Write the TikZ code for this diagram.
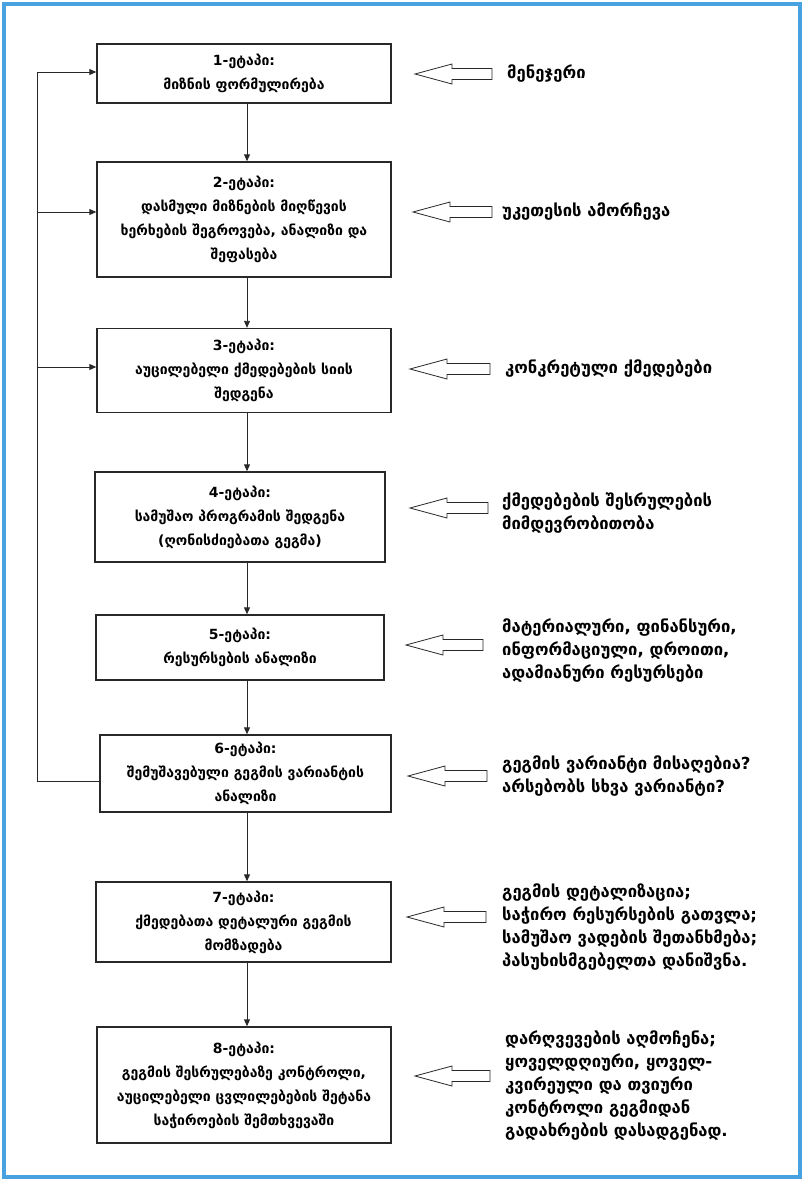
\documentclass[tikz,border=0pt]{standalone}
\usepackage{fontspec}
\setmainfont{DejaVu Sans}
\usetikzlibrary{arrows.meta}
\definecolor{framecol}{RGB}{72,162,224}
\definecolor{ink}{RGB}{40,40,40}
\begin{document}
\begin{tikzpicture}[x=1pt,y=-1pt,
  stage/.style={draw=ink,line width=1.4pt,fill=white,align=center,inner sep=2pt,
    font=\bfseries\fontsize{14}{24}\selectfont,text=black},
  note/.style={anchor=west,align=left,inner sep=0pt,
    font=\bfseries\fontsize{16.6}{23}\selectfont,text=black},
  flow/.style={draw=ink,line width=0.9pt,-{Triangle[length=7pt,width=6pt]}},
  loopline/.style={draw=ink,line width=0.9pt},
  blockarrow/.pic={\draw[ink,line width=0.8pt,line join=miter]
    (0,0) -- (37,-10) -- (37,-5.5) -- (#1,-5.5) -- (#1,5.5) -- (37,5.5) -- (37,10) -- cycle;}]
\useasboundingbox (0,0) rectangle (804,1181);
\fill[white] (0,0) rectangle (804,1181);
\draw[framecol,line width=4pt] (4,4) rectangle (800,1177);

% stages of the planning process
\node[stage,minimum width=294,minimum height=59]  (s1) at (244,73.5)
  {1-ეტაპი:\\მიზნის ფორმულირება};
\node[stage,minimum width=294,minimum height=115] (s2) at (244,219.5)
  {2-ეტაპი:\\დასმული მიზნების მიღწევის\\ხერხების შეგროვება, ანალიზი და\\შეფასება};
\node[stage,minimum width=294,minimum height=84]  (s3) at (244,370.5)
  {3-ეტაპი:\\აუცილებელი ქმედებების სიის\\შედგენა};
\node[stage,minimum width=290,minimum height=90]  (s4) at (240,517)
  {4-ეტაპი:\\სამუშაო პროგრამის შედგენა\\(ღონისძიებათა გეგმა)};
\node[stage,minimum width=288,minimum height=65]  (s5) at (240,647.5)
  {5-ეტაპი:\\რესურსების ანალიზი};
\node[stage,minimum width=291,minimum height=77]  (s6) at (245.5,773.5)
  {6-ეტაპი:\\შემუშავებული გეგმის ვარიანტის\\ანალიზი};
\node[stage,minimum width=295,minimum height=80]  (s7) at (243.5,922)
  {7-ეტაპი:\\ქმედებათა დეტალური გეგმის\\მომზადება};
\node[stage,minimum width=294,minimum height=116] (s8) at (244,1085)
  {8-ეტაპი:\\გეგმის შესრულებაზე კონტროლი,\\აუცილებელი ცვლილებების შეტანა\\საჭიროების შემთხვევაში};

% main downward flow
\coordinate (col) at (247,0);
\foreach \a/\b in {s1/s2,s2/s3,s3/s4,s4/s5,s5/s6,s6/s7,s7/s8}
  \draw[flow] (\a.south -| col) -- (\b.north -| col);

% feedback loop from stage 6 back to stages 1-3
\coordinate (fbtop) at (37,72);
\coordinate (fb2) at (37,212);
\coordinate (fb3) at (37,367);
\draw[loopline] ([yshift=-7.5pt]s6.west) -| (fbtop);
\draw[flow] (fbtop) -- (s1.west |- fbtop);
\draw[flow] (fb2) -- (s2.west |- fb2);
\draw[flow] (fb3) -- (s3.west |- fb3);

% inputs on the right
\pic at (415,74)  {blockarrow=77};
\pic at (413,212) {blockarrow=79};
\pic at (410,369) {blockarrow=80};
\pic at (410,508) {blockarrow=78};
\pic at (406,645) {blockarrow=77};
\pic at (408,776) {blockarrow=79};
\pic at (407,917) {blockarrow=79};
\pic at (415,1076) {blockarrow=75};

\node[note] (t1) at (507,74)  {მენეჯერი};
\node[note] (t2) at (502,212) {უკეთესის ამორჩევა};
\node[note] (t3) at (505,369) {კონკრეტული ქმედებები};
\node[note] (t4) at (502,513) {ქმედებების შესრულების\\მიმდევრობითობა};
\node[note] (t5) at (502,651) {მატერიალური, ფინანსური,\\ინფორმაციული, დროითი,\\ადამიანური რესურსები};
\node[note] (t6) at (502,776) {გეგმის ვარიანტი მისაღებია?\\არსებობს სხვა ვარიანტი?};
\node[note] (t7) at (502,927) {გეგმის დეტალიზაცია;\\საჭირო რესურსების გათვლა;\\სამუშაო ვადების შეთანხმება;\\პასუხისმგებელთა დანიშვნა.};
\node[note] (t8) at (505,1086) {დარღვევების აღმოჩენა;\\ყოველდღიური, ყოველ-\\კვირეული და თვიური\\კონტროლი გეგმიდან\\გადახრების დასადგენად.};
\end{tikzpicture}
\end{document}
